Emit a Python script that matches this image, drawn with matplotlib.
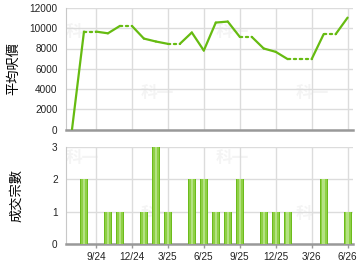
import matplotlib
matplotlib.use('Agg')
import matplotlib.pyplot as plt
import numpy as np
import pandas as pd

# monthly data, 7/24 .. 6/26 (nan = no transaction that month)
months = ['7/24', '8/24', '9/24', '10/24', '11/24', '12/24', '1/25', '2/25',
          '3/25', '4/25', '5/25', '6/25', '7/25', '8/25', '9/25', '10/25',
          '11/25', '12/25', '1/26', '2/26', '3/26', '4/26', '5/26', '6/26']
avg_price = [0, 9670, np.nan, 9500, 10230, np.nan, 8980, 8690,
             8460, np.nan, 9580, 7800, 10560, 10660, 9150, np.nan,
             8000, 7670, 6950, np.nan, np.nan, 9410, np.nan, 11050]
deals = [0, 2, 0, 1, 1, 0, 1, 3,
         1, 0, 2, 2, 1, 1, 2, 0,
         1, 1, 1, 0, 0, 2, 0, 1]
tick_labels = ['9/24', '12/24', '3/25', '6/25', '9/25', '12/25', '3/26', '6/26']

plt.rcParams['font.family'] = ['Liberation Sans', 'DejaVu Sans']
cjk = ['Noto Sans CJK TC', 'DejaVu Sans']

x = np.arange(len(months))
price = pd.Series(avg_price)
filled = price.ffill().values
missing = price.isna().values
tick_pos = [months.index(t) for t in tick_labels]

fig = plt.figure(figsize=(3.6, 2.7), dpi=100)
W, H = 360, 270
ax1 = fig.add_axes([66 / W, 1 - 129.5 / H, 287 / W, 121.5 / H])
ax2 = fig.add_axes([66 / W, 1 - 244 / H, 287 / W, 97 / H])

line_col = '#66bb11'
grid_col = '#dcdcdc'

for ax in (ax1, ax2):
    ax.set_xlim(-0.5, 23.45)
    ax.set_xticks(tick_pos)
    ax.grid(True, color=grid_col, linewidth=1)
    ax.set_axisbelow(True)
    for s in ('top', 'right'):
        ax.spines[s].set_visible(False)
    ax.spines['left'].set_color('#c8c8c8')
    ax.spines['bottom'].set_color('#999999')
    ax.spines['bottom'].set_linewidth(1.8)
    ax.tick_params(axis='y', length=0, labelsize=7.2, pad=6, colors='#222222')

# faint watermarks
for ax, pts in ((ax1, [(0.0, 0.76), (0.26, 0.26), (0.52, 0.76), (0.8, 0.26)]),
                (ax2, [(0.0, 0.84), (0.26, 0.26), (0.52, 0.84), (0.8, 0.26)])):
    for px, py in pts:
        ax.text(px, py, '科一', transform=ax.transAxes, fontsize=12,
                fontweight='bold', color='#f4f4f4', family=cjk, zorder=0.5)

# price line: segments into a missing month are dotted
for i in range(len(x) - 1):
    ls = ':' if missing[i + 1] else '-'
    ax1.plot(x[i:i + 2], filled[i:i + 2], color=line_col, linewidth=1.6,
             linestyle=ls, solid_capstyle='round', dash_capstyle='round', zorder=3)
ax1.set_ylim(0, 12000)
ax1.set_yticks(range(0, 12001, 2000))
ax1.tick_params(axis='x', length=0, labelbottom=False)
ax1.set_ylabel('平均呎價', family=cjk, fontsize=9.5)

# deal bars with a simple shading
ax2.bar(x, deals, width=0.66, color='#6cbc1c', zorder=3)
ax2.bar(x, deals, width=0.5, color='#8fd046', zorder=3)
ax2.bar(x, deals, width=0.2, color='#b4e283', zorder=3)
ax2.set_ylim(0, 3)
ax2.set_yticks([0, 1, 2, 3])
ax2.set_xticklabels(tick_labels)
ax2.tick_params(axis='x', length=3, width=1, color='#999999', labelsize=7.2,
                pad=3, labelcolor='#222222')
ax2.set_ylabel('成交宗數', family=cjk, fontsize=9.5)
ax1.yaxis.set_label_coords(-0.158, 0.5)
ax2.yaxis.set_label_coords(-0.15, 0.5)

fig.savefig('out.png', dpi=100)
